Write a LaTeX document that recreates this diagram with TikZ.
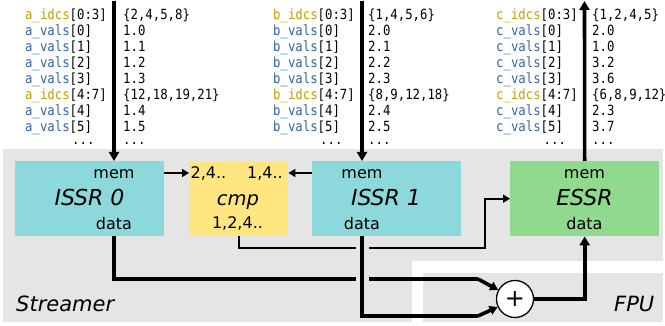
\documentclass[tikz,border=0pt]{standalone}
\usepackage{fontspec}
\setmainfont{DejaVu Sans}
\newfontfamily\monofnt[FakeStretch=0.88]{DejaVu Sans Mono}
\usetikzlibrary{arrows.meta}
\definecolor{bgray}{HTML}{E5E5E5}
\definecolor{issrc}{HTML}{8DD8DA}
\definecolor{cmpc}{HTML}{FFE680}
\definecolor{essrc}{HTML}{90DA90}
\definecolor{idxc}{HTML}{C4A000}
\definecolor{valc}{HTML}{3465A4}
\newcommand\ixc[1]{\textcolor{idxc}{#1}}
\newcommand\vlc[1]{\textcolor{valc}{#1}}
\newcommand\memrow[6]{%
  \node[lbl] (#1l#4) at (#2,{20+16*#4}) {#5};
  \node[lbl] (#1v#4) at (#3,{20+16*#4}) {#6};}
\begin{document}
\begin{tikzpicture}[x=1pt,y=-1pt,
  lbl/.style={font=\monofnt\fontsize{14}{16}\selectfont, anchor=base west, inner sep=0pt},
  unit/.style={anchor=north west, inner sep=0pt, minimum width=149pt, minimum height=75pt},
  port/.style={font=\fontsize{16}{18}\selectfont, anchor=base, inner sep=0pt},
  uname/.style={font=\itshape\fontsize{22}{24}\selectfont, anchor=base, inner sep=0pt},
  region/.style={font=\itshape\fontsize{21}{24}\selectfont, anchor=base west, inner sep=0pt},
  thickarr/.style={line width=3.6pt, -{Triangle[length=9pt,width=10pt]}},
  thinarr/.style={line width=2pt, -{Triangle[length=7pt,width=8pt]}},
  sumarr/.style={line width=3.6pt, -{Triangle[length=8pt,width=9pt]}}]
\useasboundingbox (0,0) rectangle (665,326);
% regions
\fill[bgray] (3,149) rectangle (663,322);
\fill[white] (412,261) rectangle (665,326);
\fill[bgray] (423,273) rectangle (663,322);
\node[region] (streamer) at (16,312) {Streamer};
\node[region] (fpu) at (614,312) {FPU};
% memory text columns
\memrow{a}{25}{123}{0}{\ixc{a\_idcs}[0:3]}{\{2,4,5,8\}}
\memrow{a}{25}{123}{1}{\vlc{a\_vals}[0]}{1.0}
\memrow{a}{25}{123}{2}{\vlc{a\_vals}[1]}{1.1}
\memrow{a}{25}{123}{3}{\vlc{a\_vals}[2]}{1.2}
\memrow{a}{25}{123}{4}{\vlc{a\_vals}[3]}{1.3}
\memrow{a}{25}{123}{5}{\ixc{a\_idcs}[4:7]}{\{12,18,19,21\}}
\memrow{a}{25}{123}{6}{\vlc{a\_vals}[4]}{1.4}
\memrow{a}{25}{123}{7}{\vlc{a\_vals}[5]}{1.5}
\node[lbl] (adl) at (72,145) {...};
\node[lbl] (adv) at (123,145) {...};
\memrow{b}{273}{368}{0}{\ixc{b\_idcs}[0:3]}{\{1,4,5,6\}}
\memrow{b}{273}{368}{1}{\vlc{b\_vals}[0]}{2.0}
\memrow{b}{273}{368}{2}{\vlc{b\_vals}[1]}{2.1}
\memrow{b}{273}{368}{3}{\vlc{b\_vals}[2]}{2.2}
\memrow{b}{273}{368}{4}{\vlc{b\_vals}[3]}{2.3}
\memrow{b}{273}{368}{5}{\ixc{b\_idcs}[4:7]}{\{8,9,12,18\}}
\memrow{b}{273}{368}{6}{\vlc{b\_vals}[4]}{2.4}
\memrow{b}{273}{368}{7}{\vlc{b\_vals}[5]}{2.5}
\node[lbl] (bdl) at (320,145) {...};
\node[lbl] (bdv) at (368,145) {...};
\memrow{c}{496}{592}{0}{\ixc{c\_idcs}[0:3]}{\{1,2,4,5\}}
\memrow{c}{496}{592}{1}{\vlc{c\_vals}[0]}{2.0}
\memrow{c}{496}{592}{2}{\vlc{c\_vals}[1]}{1.0}
\memrow{c}{496}{592}{3}{\vlc{c\_vals}[2]}{3.2}
\memrow{c}{496}{592}{4}{\vlc{c\_vals}[3]}{3.6}
\memrow{c}{496}{592}{5}{\ixc{c\_idcs}[4:7]}{\{6,8,9,12\}}
\memrow{c}{496}{592}{6}{\vlc{c\_vals}[4]}{2.3}
\memrow{c}{496}{592}{7}{\vlc{c\_vals}[5]}{3.7}
\node[lbl] (cdl) at (543.5,145) {...};
\node[lbl] (cdv) at (592,145) {...};
% units
\node[unit, fill=issrc] (issr0) at (15,161) {};
\node[unit, fill=cmpc, minimum width=99pt] (cmp) at (189,161) {};
\node[unit, fill=issrc] (issr1) at (312,161) {};
\node[unit, fill=essrc] (essr) at (510,161) {};
\node[port] (i0mem) at (114,179) {mem};
\node[uname] (i0name) at (89.5,205.5) {ISSR 0};
\node[port] (i0data) at (114,230) {data};
\node[port] (cin0) at (208.5,179) {2,4..};
\node[port] (cin1) at (265,179) {1,4..};
\node[uname, font=\itshape\fontsize{19.5}{22}\selectfont] (cname) at (238,205.5) {cmp};
\node[port] (cout) at (237.5,229) {1,2,4..};
\node[port] (i1mem) at (362,179) {mem};
\node[uname] (i1name) at (386,205.5) {ISSR 1};
\node[port] (i1data) at (362,230) {data};
\node[port] (emem) at (584.5,179) {mem};
\node[uname] (ename) at (584.5,205.5) {ESSR};
\node[port] (edata) at (584.5,230) {data};
\node[draw, circle, line width=1.3pt, fill=white, minimum size=37pt, inner sep=0pt,
      font=\fontsize{24}{24}\selectfont] (plus) at (515,299) {+};
% coordinates
\coordinate (atop) at (114,1);
\coordinate (btop) at (362,1);
\coordinate (ctop) at (584.5,1);
\coordinate (yin) at (0,173);
\coordinate (jx) at (485,248);
\coordinate (k0) at (478,279);
\coordinate (k1) at (478,316);
% memory connections
\draw[thickarr] (atop) -- (atop |- issr0.north);
\draw[thickarr] (btop) -- (btop |- issr1.north);
\draw[thickarr] (essr.north) -- (ctop);
% index comparison
\draw[thinarr] (issr0.east |- yin) -- (cmp.west |- yin);
\draw[thinarr] (issr1.west |- yin) -- (cmp.east |- yin);
\draw[thinarr] (cmp.south) |- (jx) |- (essr.west);
% data paths
\draw[line width=3.6pt] (atop |- issr0.south) |- (k0);
\draw[sumarr] (k0) -- (plus);
\fill[bgray] ([xshift=-6.5pt]btop |- jx) ++(0,-6) rectangle ++(13,40);
\draw[line width=3.6pt] (btop |- issr1.south) |- (k1);
\draw[sumarr] (k1) -- (plus);
\draw[thickarr] (plus.east) -| (essr.south);
\end{tikzpicture}
\end{document}
